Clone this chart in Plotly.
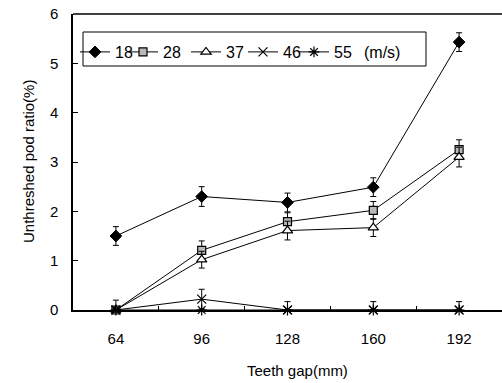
import plotly.graph_objects as go

gaps = [64, 96, 128, 160, 192]
speeds = ["18", "28", "37", "46", "55"]
v18 = [1.50, 2.30, 2.18, 2.49, 5.43]
v28 = [0.00, 1.21, 1.79, 2.02, 3.25]
v37 = [0.00, 1.02, 1.61, 1.67, 3.10]
v46 = [0.00, 0.22, 0.00, 0.00, 0.00]
v55 = [0.00, 0.00, 0.00, 0.00, 0.00]
e18p = [0.19, 0.20, 0.19, 0.19, 0.19]
e18m = [0.19, 0.20, 0.19, 0.19, 0.19]
e28p = [0.00, 0.19, 0.18, 0.18, 0.20]
e28m = [0.00, 0.19, 0.18, 0.18, 0.20]
e37p = [0.00, 0.17, 0.19, 0.18, 0.20]
e37m = [0.00, 0.17, 0.19, 0.18, 0.20]
e46p = [0.00, 0.20, 0.00, 0.00, 0.00]
e46m = [0.00, 0.20, 0.00, 0.00, 0.00]
e55p = [0.20, 0.00, 0.17, 0.17, 0.17]
e55m = [0.00, 0.00, 0.00, 0.00, 0.00]

W, H = 502, 383
L, R, T, B = 73, 0, 14, 73
pw, ph = W - L - R, H - T - B

def px2x(px):
    return (px - L) / pw

def py2y(py):
    return (H - B - py) / ph

series = [
    (v18, e18p, e18m, dict(symbol="diamond", size=9, color="black", line=dict(color="black", width=1))),
    (v28, e28p, e28m, dict(symbol="square", size=8, color="#b8b8b8", line=dict(color="black", width=1.2))),
    (v37, e37p, e37m, dict(symbol="triangle-up", size=9, color="white", line=dict(color="black", width=1.2))),
    (v46, e46p, e46m, dict(symbol="x-thin", size=9, color="black", line=dict(color="black", width=1.2))),
    (v55, e55p, e55m, dict(symbol="asterisk", size=9, color="black", line=dict(color="black", width=1.2))),
]

leg_text_px = [117, 165, 228, 285, 336]
leg_names = ["legend", "legend2", "legend3", "legend4", "legend5"]

fig = go.Figure()
for i, (vals, ep, em, mk) in enumerate(series):
    fig.add_trace(go.Scatter(
        x=gaps, y=vals, name=speeds[i], mode="lines+markers",
        line=dict(color="black", width=1),
        marker=mk, cliponaxis=False,
        error_y=dict(type="data", symmetric=False, array=ep, arrayminus=em,
                     color="black", thickness=1, width=3),
        legend=leg_names[i],
    ))

font = "Liberation Sans, Arial, sans-serif"
layout_leg = {}
for i, ln in enumerate(leg_names):
    layout_leg[ln] = dict(
        x=px2x(leg_text_px[i] - 42), y=py2y(52), xanchor="left", yanchor="middle",
        bgcolor="rgba(0,0,0,0)", borderwidth=0, itemwidth=30,
        font=dict(family=font, size=16, color="black"),
    )

fig.update_layout(
    width=W, height=H,
    margin=dict(l=L, r=R, t=T, b=B),
    paper_bgcolor="white", plot_bgcolor="white",
    showlegend=True,
    font=dict(family=font, size=15, color="black"),
    xaxis=dict(range=[48, 208], tickvals=gaps, ticks="inside", ticklen=5,
               tickcolor="black", showline=True, linecolor="black", linewidth=1.5,
               mirror=False, showgrid=False, zeroline=False, ticklabelstandoff=14,
               minor=dict(tickvals=[80, 112, 144, 176], ticks="inside", ticklen=4,
                          tickcolor="black", showgrid=False),
               tickfont=dict(family=font, size=15, color="black")),
    yaxis=dict(range=[0, 6], dtick=1, ticks="inside", ticklen=5, tickcolor="black",
               showline=True, linecolor="black", linewidth=1.5, showgrid=False,
               mirror=False, zeroline=False, ticklabelstandoff=10,
               tickfont=dict(family=font, size=15, color="black")),
    shapes=[
        dict(type="rect", xref="paper", yref="paper",
             x0=px2x(83), x1=px2x(426), y0=py2y(66), y1=py2y(32),
             line=dict(color="black", width=1)),
        dict(type="line", xref="paper", yref="paper", x0=0, x1=1, y0=1, y1=1,
             line=dict(color="black", width=1.5)),
    ],
    annotations=[
        dict(text="(m/s)", xref="paper", yref="paper", x=px2x(362), y=py2y(52),
             xanchor="left", yanchor="middle", showarrow=False,
             font=dict(family=font, size=16, color="black")),
        dict(text="Unthreshed pod ratio(%)", xref="paper", yref="paper",
             x=px2x(28), y=py2y(162), xanchor="center", yanchor="middle",
             textangle=-90, showarrow=False, font=dict(family=font, size=15, color="black")),
        dict(text="Teeth gap(mm)", xref="paper", yref="paper",
             x=px2x(297), y=py2y(370), xanchor="center", yanchor="middle",
             showarrow=False, font=dict(family=font, size=15, color="black")),
    ],
    **layout_leg,
)

fig.write_html("out.html", config={"displayModeBar": False},
               post_script="document.documentElement.style.overflow='hidden';document.body.style.margin='0';document.body.style.overflow='hidden';")
